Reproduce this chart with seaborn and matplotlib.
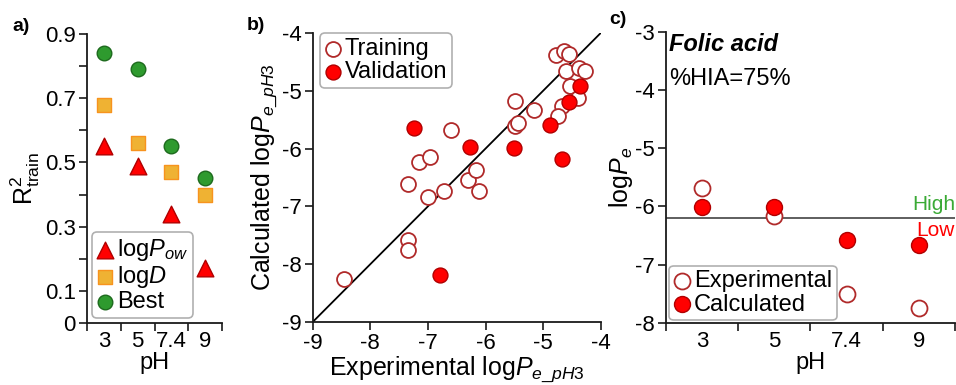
import numpy as np
import pandas as pd
import seaborn as sns
from matplotlib import pyplot as plt

# panel a) R2 of training vs pH
ph_labels = ['3', '5', '7.4', '9']
r2_logpow = [0.55, 0.49, 0.34, 0.17]
r2_logd = [0.68, 0.56, 0.47, 0.40]
r2_best = [0.84, 0.79, 0.55, 0.45]

# panel b) calculated vs experimental logPe at pH 3
train_exp = [-8.46, -7.34, -7.34, -7.34, -7.15, -6.96, -6.99, -6.72, -6.60, -6.30, -6.16, -6.12, -5.48,
             -5.49, -5.43, -5.16, -4.78, -4.64, -4.55, -4.61, -4.37, -4.27, -4.53, -4.39, -4.68, -4.74]
train_calc = [-8.25, -7.58, -7.76, -6.62, -6.23, -6.15, -6.84, -6.73, -5.68, -6.54, -6.37, -6.73, -5.17,
              -5.61, -5.56, -5.34, -4.38, -4.32, -4.36, -4.65, -4.61, -4.65, -4.92, -5.13, -5.26, -5.43]
valid_exp = [-7.24, -6.27, -6.79, -5.50, -4.88, -4.67, -4.55, -4.36]
valid_calc = [-5.64, -5.97, -8.18, -5.99, -5.60, -6.18, -5.20, -4.91]
diag = [-9, -4]

# panel c) folic acid logPe vs pH
folic_exp = [-5.69, -6.17, -7.50, -7.75]
folic_calc = [-6.01, -6.01, -6.58, -6.67]
hia_cut = -6.2

sns.set_theme(style='ticks')
plt.rcParams['font.family'] = ['Liberation Sans', 'DejaVu Sans']
plt.rcParams['mathtext.fontset'] = 'custom'
plt.rcParams['mathtext.rm'] = 'Liberation Sans'
plt.rcParams['mathtext.it'] = 'Liberation Sans:italic'
plt.rcParams['mathtext.bf'] = 'Liberation Sans:bold'
for k in ['text.color', 'axes.labelcolor', 'xtick.color', 'ytick.color',
          'xtick.labelcolor', 'ytick.labelcolor']:
    plt.rcParams[k] = 'black'

spine_col = '#1a1a1a'
tick_fs = 16
lab_fs = 17

fig = plt.figure(figsize=(9.56, 3.85), dpi=100)
ax_a = fig.add_axes([87 / 956, 62 / 385, 135 / 956, 289 / 385])
ax_b = fig.add_axes([312.7 / 956, 63 / 385, 288 / 956, 289 / 385])
ax_c = fig.add_axes([665.7 / 956, 62.3 / 385, 289.3 / 956, 291 / 385])


def style_axes(ax):
    sns.despine(ax=ax)
    for s in ['left', 'bottom']:
        ax.spines[s].set_linewidth(1.3)
        ax.spines[s].set_color(spine_col)
    ax.tick_params(which='both', direction='out', length=6, width=1.2, color=spine_col,
                   labelcolor='black', labelsize=tick_fs, pad=2)


def cat_ticks(ax, n):
    ax.set_xlim(-0.5, n - 0.5)
    ax.set_xticks(np.arange(n))
    ax.set_xticks(np.arange(n + 1) - 0.5, minor=True)
    ax.tick_params(axis='x', which='major', length=0, pad=6)


def leg_style(ax, **kw):
    leg = ax.legend(fontsize=lab_fs, frameon=True, fancybox=True, framealpha=1,
                    handlelength=0.7, handletextpad=0.15, borderpad=0.2, labelspacing=0.05,
                    borderaxespad=0, **kw)
    leg.get_frame().set_edgecolor('#b0b0b0')
    leg.get_frame().set_linewidth(1.2)
    return leg


# ---- a)
df_a = pd.DataFrame({'pH': ph_labels, 'logpow': r2_logpow, 'logd': r2_logd, 'best': r2_best})
sns.stripplot(data=df_a, x='pH', y='logpow', order=ph_labels, jitter=False, marker='^', size=12,
              color='#ff0000', edgecolor='#b00000', linewidth=1, ax=ax_a, label=r'log$P_{ow}$', zorder=3)
sns.stripplot(data=df_a, x='pH', y='logd', order=ph_labels, jitter=False, marker='s', size=10,
              color='#efb233', edgecolor='#f7931e', linewidth=1, ax=ax_a, label=r'log$D$', zorder=3)
sns.stripplot(data=df_a, x='pH', y='best', order=ph_labels, jitter=False, marker='o', size=10.5,
              color='#2e9a2e', edgecolor='#1d6a1d', linewidth=1, ax=ax_a, label='Best', zorder=3)
style_axes(ax_a)
cat_ticks(ax_a, 4)
ax_a.set_ylim(0, 0.9)
ax_a.set_yticks(np.round(np.arange(0, 0.91, 0.1), 1))
ax_a.set_yticklabels(['0', '0.1', '', '0.3', '', '0.5', '', '0.7', '', '0.9'])
ax_a.set_xlabel('pH', fontsize=lab_fs, labelpad=0)
ax_a.set_ylabel(r'R$^{2}_{\mathrm{train}}$', fontsize=lab_fs + 1, labelpad=2)
h, l = ax_a.get_legend_handles_labels()
leg_style(ax_a, handles=h[:1] + h[4:5] + h[8:9], labels=[l[0], l[4], l[8]],
          loc='lower left', bbox_to_anchor=(0.037, 0.017))

# ---- b)
df_train = pd.DataFrame({'exp': train_exp, 'calc': train_calc})
df_valid = pd.DataFrame({'exp': valid_exp, 'calc': valid_calc})
sns.lineplot(x=diag, y=diag, color='black', linewidth=1.3, ax=ax_b, zorder=2)
sns.scatterplot(data=df_train, x='exp', y='calc', s=115, facecolor='white', edgecolor='#b02a2a',
                linewidth=1.3, ax=ax_b, label='Training', zorder=3)
sns.scatterplot(data=df_valid, x='exp', y='calc', s=115, color='#ff0000', edgecolor='#b00000',
                linewidth=1, ax=ax_b, label='Validation', zorder=4)
style_axes(ax_b)
ax_b.set_xlim(-9, -4)
ax_b.set_ylim(-9, -4)
ax_b.set_xticks(np.arange(-9, -3))
ax_b.set_yticks(np.arange(-9, -3))
ax_b.set_xticklabels([str(v) for v in range(-9, -3)])
ax_b.set_yticklabels([str(v) for v in range(-9, -3)])
ax_b.set_xlabel(r'Experimental log$P_{e\_pH3}$', fontsize=lab_fs + 1, labelpad=0)
ax_b.set_ylabel(r'Calculated log$P_{e\_pH3}$', fontsize=lab_fs + 1, labelpad=2)
leg_style(ax_b, loc='upper left', bbox_to_anchor=(0.025, 1.0))

# ---- c)
df_c = pd.DataFrame({'pH': ph_labels, 'exp': folic_exp, 'calc': folic_calc})
sns.stripplot(data=df_c, x='pH', y='exp', order=ph_labels, jitter=False, marker='o', size=11.5,
              color='white', edgecolor='#b02a2a', linewidth=1.3, ax=ax_c, label='Experimental', zorder=3)
sns.stripplot(data=df_c, x='pH', y='calc', order=ph_labels, jitter=False, marker='o', size=11.5,
              color='#ff0000', edgecolor='#b00000', linewidth=1, ax=ax_c, label='Calculated', zorder=4)
ax_c.axhline(hia_cut, color='#333333', linewidth=1.1, zorder=2)
style_axes(ax_c)
cat_ticks(ax_c, 4)
ax_c.set_ylim(-8, -3)
ax_c.set_yticks(np.arange(-8, -2))
ax_c.set_yticklabels([str(v) for v in range(-8, -2)])
ax_c.set_xlabel('pH', fontsize=lab_fs, labelpad=0)
ax_c.set_ylabel(r'log$P_{e}$', fontsize=lab_fs + 1, labelpad=0)
ax_c.text(0.012, 0.995, 'Folic acid', transform=ax_c.transAxes, ha='left', va='top',
          fontsize=lab_fs, fontweight='bold', fontstyle='italic', color='black')
ax_c.text(0.012, 0.875, '%HIA=75%', transform=ax_c.transAxes, ha='left', va='top',
          fontsize=lab_fs, color='black')
ax_c.text(1.0, hia_cut + 0.06, 'High', transform=ax_c.get_yaxis_transform(), ha='right', va='bottom',
          fontsize=15, color='#3aaa35')
ax_c.text(1.0, hia_cut - 0.06, 'Low', transform=ax_c.get_yaxis_transform(), ha='right', va='top',
          fontsize=15, color='#ff0000')
h, l = ax_c.get_legend_handles_labels()
leg_style(ax_c, handles=[h[0], h[4]], labels=[l[0], l[4]],
          loc='lower left', bbox_to_anchor=(0.012, 0.008))

fig.text(0.013, 0.952, 'a)', fontsize=14, fontweight='bold', va='top')
fig.text(0.258, 0.955, 'b)', fontsize=14, fontweight='bold', va='top')
fig.text(0.637, 0.972, 'c)', fontsize=14, fontweight='bold', va='top')

fig.savefig('out.png', dpi=100)
